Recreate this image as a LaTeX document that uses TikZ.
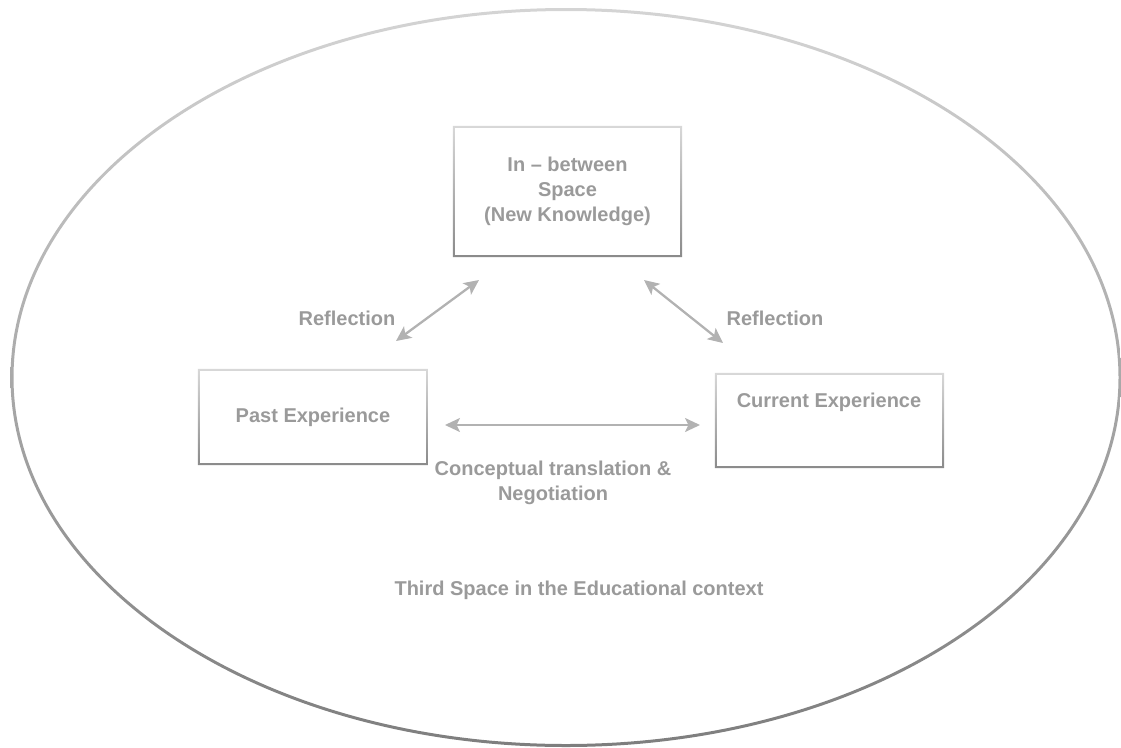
\documentclass[tikz,border=0pt]{standalone}
\usepackage{fontspec}
\setmainfont{Liberation Sans}
\usetikzlibrary{arrows.meta}
\definecolor{txt}{HTML}{9A9A9A}
\definecolor{arr}{HTML}{B2B2B2}
\definecolor{rimtop}{HTML}{D4D4D4}
\definecolor{rimbot}{HTML}{7E7E7E}
\definecolor{boxtop}{HTML}{D8D8D8}
\definecolor{boxbot}{HTML}{8A8A8A}
\begin{document}
\begin{tikzpicture}[x=1pt,y=-1pt,
  lbl/.style={text=txt, font=\bfseries\fontsize{20}{25}\selectfont, align=center, inner sep=0pt},
  boxnode/.style={minimum width=#1, inner sep=0pt, draw=none},
  link/.style={draw=arr, line width=2.3pt,
    {Stealth[length=15pt,width=14pt,inset=3.5pt]}-{Stealth[length=15pt,width=14pt,inset=3.5pt]}},
  frame/.style={top color=boxtop, bottom color=boxbot, even odd rule}]
\useasboundingbox (0,0) rectangle (1121,747);
% outer ellipse with gradient rim
\coordinate (c) at (566,377.5);
\shade[top color=rimtop, bottom color=rimbot, even odd rule]
  (c) ellipse (555.5 and 369.5) (c) ellipse (552.5 and 366.5);
% boxes
\node[boxnode=227pt, minimum height=129pt, lbl] (top) at (567.5,191.5)
  {In -- between\\Space\\(New Knowledge)};
\node[boxnode=228pt, minimum height=94pt, lbl] (past) at (313,417) {Past Experience};
\node[boxnode=227pt, minimum height=93pt] (cur) at (829.5,420.5) {};
\node[lbl] (curtxt) at (829,402) {Current Experience};
\foreach \b in {top,past,cur}{
  \shade[frame]
    ([shift={(-1,-1)}]\b.north west) rectangle ([shift={(1,1)}]\b.south east)
    ([shift={(1,1)}]\b.north west) rectangle ([shift={(-1,-1)}]\b.south east);
}
% connectors
\coordinate (a1s) at (396,341);
\coordinate (a1e) at (479,280);
\coordinate (a2s) at (644,280);
\coordinate (a2e) at (723,343);
\coordinate (hs) at (445,425);
\coordinate (he) at (700,425);
\draw[link] (a1s) -- (a1e);
\draw[link] (a2s) -- (a2e);
\draw[link] (hs) -- (he);
% labels
\node[lbl] (r1) at (347,318) {Reflection};
\node[lbl] (r2) at (775,318) {Reflection};
\node[lbl] (ctn) at (553,483) {Conceptual translation \&\\Negotiation};
\node[lbl] (third) at (579,590) {Third Space in the Educational context};
\end{tikzpicture}
\end{document}
